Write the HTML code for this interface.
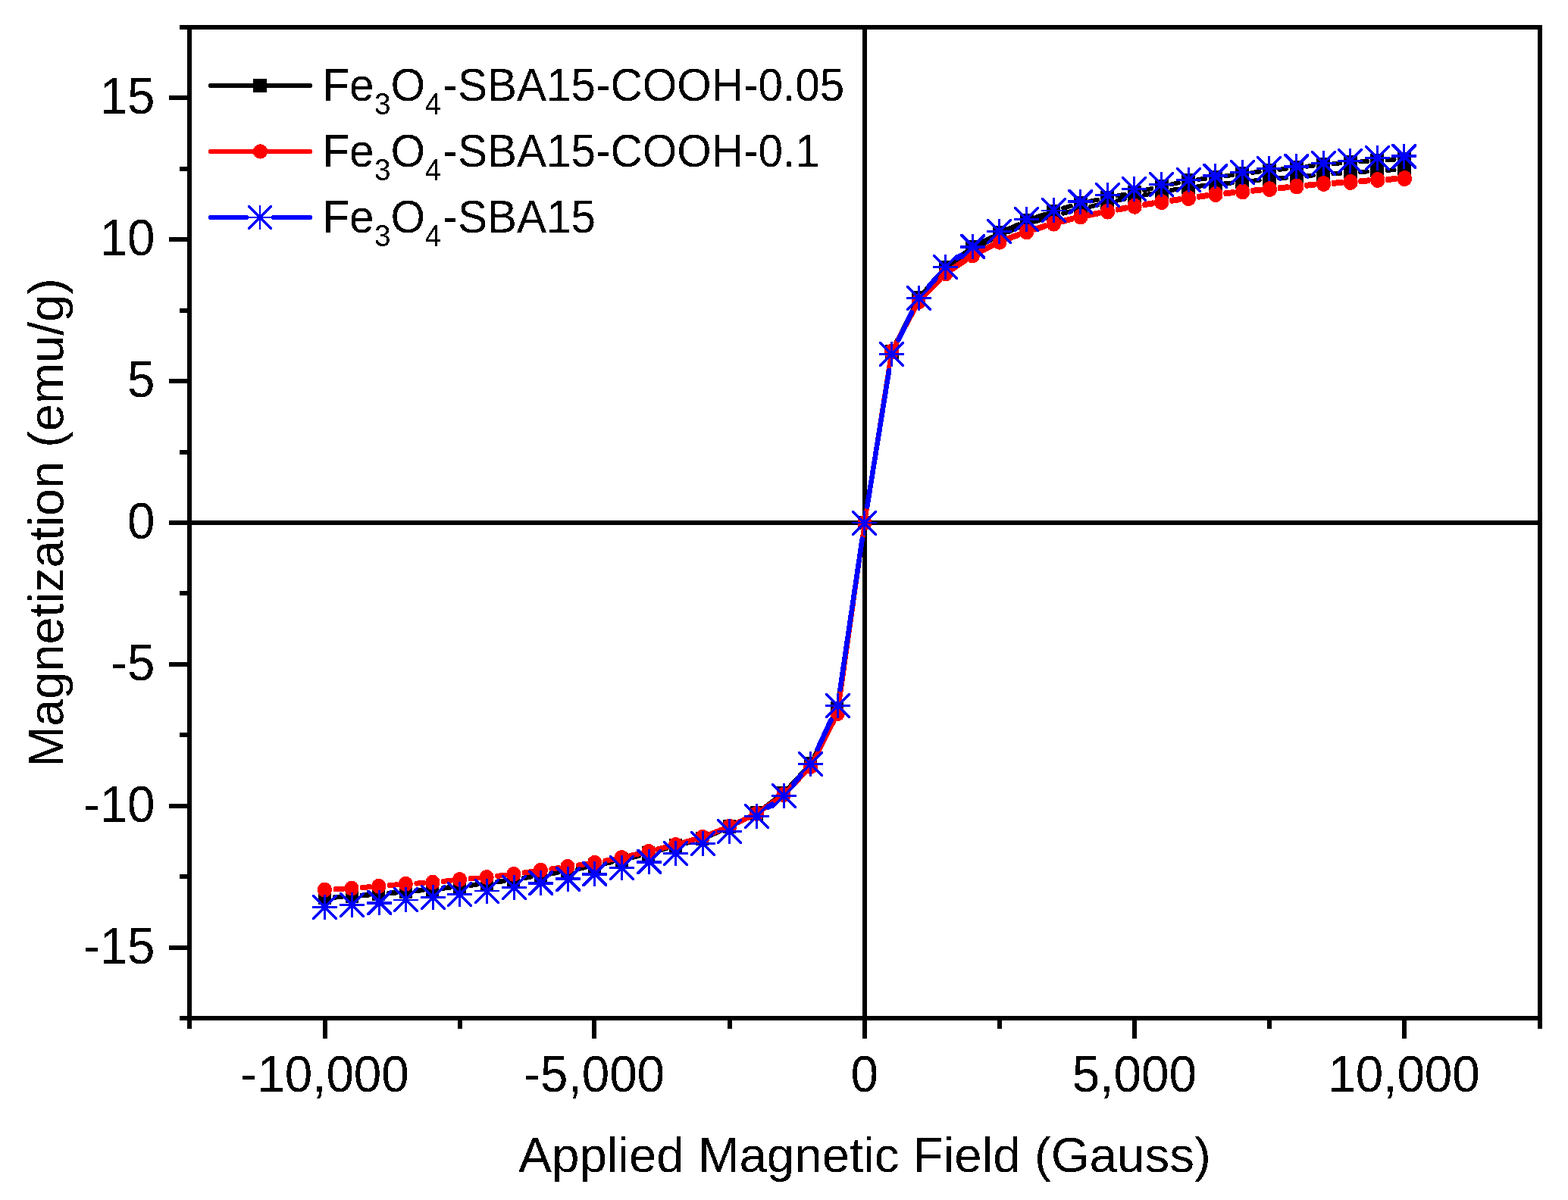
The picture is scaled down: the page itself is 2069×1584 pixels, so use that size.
<!DOCTYPE html>
<html lang="en"><head><meta charset="utf-8"><title>Magnetization vs Applied Magnetic Field</title>
<style>html,body{margin:0;padding:0;background:#fff}svg{display:block}text{font-family:"Liberation Sans",Arial,Helvetica,sans-serif;fill:#000}</style></head><body>
<svg width="2069" height="1584" viewBox="0 0 2069 1584" role="img" aria-label="Magnetization versus applied magnetic field">
<rect width="2069" height="1584" fill="#fff"/>
<g shape-rendering="crispEdges" fill="#000">
<rect x="1138" y="36" width="6" height="1308"/>
<rect x="250" y="687" width="1782" height="6"/>
</g>
<g shape-rendering="crispEdges">
<path d="M442.2 1184.6L451.2 1184.0M477.8 1182.2L486.8 1181.5M513.3 1179.2L522.5 1178.5M548.9 1176.1L558.1 1175.2M584.5 1172.7L593.7 1171.8M620.1 1168.9L629.3 1167.8M655.7 1164.4L664.9 1163.2M691.2 1159.3L700.6 1157.7M726.8 1153.5L736.2 1151.9M762.3 1147.2L771.9 1145.3M797.9 1140.1L807.5 1138.2M833.4 1132.4L843.2 1129.9M868.9 1123.0L878.9 1120.2M904.6 1113.2L914.4 1110.8M938.2 1102.6L952.0 1096.4M973.6 1086.2L987.8 1079.1M1008.2 1066.7L1024.4 1054.6M1042.2 1038.7L1061.6 1017.8M1074.9 998.2L1100.1 946.3M1107.0 923.6L1139.2 701.9M1142.8 678.1L1174.6 476.7M1182.0 454.1L1206.6 405.7M1220.1 386.1L1239.7 364.1M1257.4 348.1L1273.6 336.1M1294.0 323.6L1308.2 316.4M1330.0 306.4L1343.4 300.7M1366.0 292.5L1378.6 288.6M1403.0 281.7L1412.8 279.2M1438.6 272.8L1448.4 270.5M1474.3 264.7L1483.9 262.6M1510.0 257.4L1519.4 255.7M1545.6 251.0L1555.0 249.5M1581.3 245.9L1590.5 244.8M1616.9 242.2L1626.1 241.4M1652.5 238.8L1661.7 237.9M1688.1 235.3L1697.3 234.6M1723.7 232.2L1732.9 231.4M1759.4 229.4L1768.4 228.8M1795.0 227.0L1804.0 226.4M1830.6 224.7L1839.6 224.3" stroke="#000" stroke-width="6" stroke-linecap="round" fill="none"/>
<path d="M442.2 1184.0L451.2 1183.4M477.8 1181.6L486.8 1180.9M513.3 1178.6L522.5 1177.9M548.9 1175.5L558.1 1174.6M584.5 1172.1L593.7 1171.2M620.1 1168.3L629.3 1167.2M655.7 1163.8L664.9 1162.6M691.2 1158.7L700.6 1157.1M726.8 1152.9L736.2 1151.3M762.3 1146.6L771.9 1144.7M797.9 1139.5L807.5 1137.6M833.4 1131.8L843.2 1129.3M868.9 1122.4L878.9 1119.6M904.6 1112.5L914.4 1109.9M938.3 1101.7L951.9 1095.7M973.6 1085.6L987.8 1078.5M1008.2 1066.1L1024.4 1054.0M1042.2 1038.1L1061.6 1017.2M1074.9 997.6L1100.1 945.7M1107.0 923.0L1139.2 701.9M1142.8 678.1L1174.6 476.0M1181.9 453.4L1206.7 404.2M1220.0 384.5L1239.8 362.2M1257.3 345.9L1273.7 333.5M1293.9 320.6L1308.3 313.1M1329.8 302.5L1343.6 296.3M1365.8 287.2L1378.8 282.6M1402.9 274.8L1412.9 271.9M1438.7 265.6L1448.3 263.6M1474.3 258.4L1483.9 256.5M1509.9 251.1L1519.5 248.9M1545.5 243.3L1555.1 241.2M1581.3 236.8L1590.5 235.8M1616.9 232.4L1626.1 231.0M1652.5 227.8L1661.7 226.7M1688.1 223.8L1697.3 222.7M1723.7 219.8L1732.9 218.7M1759.4 216.2L1768.4 215.4M1795.0 213.5L1804.0 212.9M1830.6 211.3L1839.6 210.7" stroke="#000" stroke-width="6" stroke-linecap="round" fill="none"/>
<path d="M420 1176h17v18h-17zM456 1174h17v18h-17zM491 1171h17v18h-17zM527 1168h17v18h-17zM562 1165h17v18h-17zM598 1162h17v18h-17zM634 1157h17v18h-17zM669 1152h17v18h-17zM705 1147h17v18h-17zM740 1141h17v18h-17zM776 1134h17v18h-17zM812 1127h17v18h-17zM847 1118h17v18h-17zM883 1108h17v18h-17zM918 1098h17v18h-17zM954 1082h17v18h-17zM990 1065h17v18h-17zM1025 1038h17v18h-17zM1061 1000h17v18h-17zM1096 926h17v18h-17zM1132 681h17v18h-17zM1168 456h18v18h-18zM1203 386h18v18h-18zM1239 346h18v18h-18zM1274 320h18v18h-18zM1310 302h18v18h-18zM1346 287h18v18h-18zM1381 276h18v18h-18zM1417 267h18v18h-18zM1452 258h18v18h-18zM1488 251h18v18h-18zM1524 244h18v18h-18zM1559 238h18v18h-18zM1595 234h18v18h-18zM1630 231h18v18h-18zM1666 228h18v18h-18zM1702 224h18v18h-18zM1737 221h18v18h-18zM1773 219h18v18h-18zM1808 216h18v18h-18zM1844 215h18v18h-18z" fill="#000"/>
<path d="M420 1176h17v18h-17zM456 1174h17v18h-17zM491 1171h17v18h-17zM527 1168h17v18h-17zM562 1164h17v18h-17zM598 1161h17v18h-17zM634 1157h17v18h-17zM669 1152h17v18h-17zM705 1146h17v18h-17zM740 1140h17v18h-17zM776 1133h17v18h-17zM812 1126h17v18h-17zM847 1117h17v18h-17zM883 1107h17v18h-17zM918 1098h17v18h-17zM954 1082h17v18h-17zM990 1064h17v18h-17zM1025 1038h17v18h-17zM1061 999h17v18h-17zM1096 926h17v18h-17zM1132 681h17v18h-17zM1168 455h18v18h-18zM1203 384h18v18h-18zM1239 344h18v18h-18zM1274 317h18v18h-18zM1310 298h18v18h-18zM1346 282h18v18h-18zM1381 270h18v18h-18zM1417 259h18v18h-18zM1452 252h18v18h-18zM1488 245h18v18h-18zM1524 237h18v18h-18zM1559 229h18v18h-18zM1595 225h18v18h-18zM1630 220h18v18h-18zM1666 216h18v18h-18zM1702 212h18v18h-18zM1737 208h18v18h-18zM1773 205h18v18h-18zM1808 203h18v18h-18zM1844 201h18v18h-18z" fill="#000"/>
<path d="M442.6 1173.3L452.8 1172.8M478.2 1171.0L488.4 1170.2M513.8 1168.2L524.0 1167.3M549.4 1165.6L559.6 1165.0M584.9 1162.8L595.3 1161.7M620.6 1159.3L630.8 1158.5M656.1 1155.9L666.5 1154.7M691.7 1151.5L702.1 1150.0M727.3 1146.5L737.7 1145.1M762.9 1141.6L773.3 1140.1M798.3 1135.8L809.0 1133.7M831.6 1129.0L845.0 1125.9M867.2 1120.6L880.6 1117.3M902.7 1111.4L916.3 1107.5M937.9 1100.2L952.3 1094.5M973.2 1085.4L988.2 1078.4M1007.8 1066.9L1024.8 1055.1M1042.0 1040.3L1061.8 1019.7M1074.9 1001.3L1100.1 951.7M1106.9 930.2L1139.3 700.8M1142.7 678.2L1174.7 474.6M1181.9 453.3L1206.7 407.0M1220.0 388.8L1239.8 368.2M1257.2 353.6L1273.8 342.4M1293.5 330.9L1308.7 323.3M1329.6 314.2L1343.8 308.9M1365.4 301.6L1379.2 297.4M1401.1 291.3L1414.7 287.8M1436.9 282.9L1450.1 280.3M1474.7 275.6L1485.4 273.5M1510.4 269.1L1520.9 267.4M1546.1 263.7L1556.5 262.2M1581.7 258.7L1592.1 257.2M1617.3 254.2L1627.7 253.1M1652.9 250.7L1663.3 249.7M1688.5 247.2L1698.9 246.2M1724.1 243.7L1734.5 242.6M1759.8 240.7L1770.0 240.1M1795.4 238.3L1805.6 237.4M1831.0 235.8L1841.2 235.2" stroke="#f00" stroke-width="6" stroke-linecap="round" fill="none"/>
<path d="M442.6 1174.3L452.8 1173.8M478.2 1172.0L488.4 1171.2M513.8 1169.2L524.0 1168.3M549.4 1166.6L559.6 1166.0M584.9 1163.8L595.3 1162.7M620.6 1160.3L630.8 1159.5M656.1 1156.9L666.5 1155.7M691.7 1152.5L702.1 1151.0M727.3 1147.5L737.7 1146.1M762.9 1142.6L773.3 1141.1M798.3 1136.8L809.0 1134.7M831.6 1130.0L845.0 1126.9M867.2 1121.6L880.6 1118.3M902.7 1112.4L916.3 1108.5M937.9 1101.2L952.3 1095.5M973.2 1086.4L988.2 1079.4M1007.8 1067.9L1024.8 1056.1M1042.0 1041.3L1061.8 1020.7M1074.9 1002.3L1100.1 952.7M1106.9 931.2L1139.3 701.8M1142.7 679.2L1174.7 476.6M1181.9 455.3L1206.7 409.0M1220.0 390.8L1239.8 370.2M1257.2 355.6L1273.8 344.4M1293.5 332.9L1308.7 325.3M1329.6 316.2L1343.8 310.9M1365.4 303.6L1379.2 299.4M1401.1 293.3L1414.7 289.8M1436.9 284.9L1450.1 282.3M1474.7 277.6L1485.4 275.5M1510.4 271.1L1520.9 269.4M1546.1 265.7L1556.5 264.2M1581.7 260.7L1592.1 259.2M1617.3 256.2L1627.7 255.1M1652.9 252.7L1663.3 251.7M1688.5 249.2L1698.9 248.2M1724.1 245.7L1734.5 244.6M1759.8 242.7L1770.0 242.1M1795.4 240.3L1805.6 239.4M1831.0 237.8L1841.2 237.2" stroke="#f00" stroke-width="6" stroke-linecap="round" fill="none"/>
<circle cx="428.4" cy="1174.1" r="9.5" fill="#f00"/>
<circle cx="464.0" cy="1172.1" r="9.5" fill="#f00"/>
<circle cx="499.7" cy="1169.3" r="9.5" fill="#f00"/>
<circle cx="535.3" cy="1166.4" r="9.5" fill="#f00"/>
<circle cx="570.9" cy="1164.3" r="9.5" fill="#f00"/>
<circle cx="606.5" cy="1160.5" r="9.5" fill="#f00"/>
<circle cx="642.2" cy="1157.5" r="9.5" fill="#f00"/>
<circle cx="677.8" cy="1153.4" r="9.5" fill="#f00"/>
<circle cx="713.4" cy="1148.3" r="9.5" fill="#f00"/>
<circle cx="749.0" cy="1143.5" r="9.5" fill="#f00"/>
<circle cx="784.7" cy="1138.4" r="9.5" fill="#f00"/>
<circle cx="820.3" cy="1131.5" r="9.5" fill="#f00"/>
<circle cx="855.9" cy="1123.4" r="9.5" fill="#f00"/>
<circle cx="891.5" cy="1114.5" r="9.5" fill="#f00"/>
<circle cx="927.2" cy="1104.4" r="9.5" fill="#f00"/>
<circle cx="962.8" cy="1090.3" r="9.5" fill="#f00"/>
<circle cx="998.4" cy="1073.5" r="9.5" fill="#f00"/>
<circle cx="1034.0" cy="1048.5" r="9.5" fill="#f00"/>
<circle cx="1069.7" cy="1011.5" r="9.5" fill="#f00"/>
<circle cx="1105.3" cy="941.5" r="9.5" fill="#f00"/>
<circle cx="1140.9" cy="689.5" r="9.5" fill="#f00"/>
<circle cx="1176.5" cy="463.3" r="9.5" fill="#f00"/>
<circle cx="1212.1" cy="397.0" r="9.5" fill="#f00"/>
<circle cx="1247.8" cy="360.0" r="9.5" fill="#f00"/>
<circle cx="1283.4" cy="336.0" r="9.5" fill="#f00"/>
<circle cx="1319.0" cy="318.2" r="9.5" fill="#f00"/>
<circle cx="1354.6" cy="304.9" r="9.5" fill="#f00"/>
<circle cx="1390.3" cy="294.1" r="9.5" fill="#f00"/>
<circle cx="1425.9" cy="285.0" r="9.5" fill="#f00"/>
<circle cx="1461.5" cy="278.2" r="9.5" fill="#f00"/>
<circle cx="1497.1" cy="271.3" r="9.5" fill="#f00"/>
<circle cx="1532.8" cy="265.6" r="9.5" fill="#f00"/>
<circle cx="1568.4" cy="260.6" r="9.5" fill="#f00"/>
<circle cx="1604.0" cy="255.5" r="9.5" fill="#f00"/>
<circle cx="1639.6" cy="252.0" r="9.5" fill="#f00"/>
<circle cx="1675.3" cy="248.6" r="9.5" fill="#f00"/>
<circle cx="1710.9" cy="245.0" r="9.5" fill="#f00"/>
<circle cx="1746.5" cy="241.5" r="9.5" fill="#f00"/>
<circle cx="1782.1" cy="239.4" r="9.5" fill="#f00"/>
<circle cx="1817.8" cy="236.5" r="9.5" fill="#f00"/>
<circle cx="1853.4" cy="234.6" r="9.5" fill="#f00"/>
<circle cx="428.4" cy="1175.1" r="9.5" fill="#f00"/>
<circle cx="464.0" cy="1173.1" r="9.5" fill="#f00"/>
<circle cx="499.7" cy="1170.3" r="9.5" fill="#f00"/>
<circle cx="535.3" cy="1167.4" r="9.5" fill="#f00"/>
<circle cx="570.9" cy="1165.3" r="9.5" fill="#f00"/>
<circle cx="606.5" cy="1161.5" r="9.5" fill="#f00"/>
<circle cx="642.2" cy="1158.5" r="9.5" fill="#f00"/>
<circle cx="677.8" cy="1154.4" r="9.5" fill="#f00"/>
<circle cx="713.4" cy="1149.3" r="9.5" fill="#f00"/>
<circle cx="749.0" cy="1144.5" r="9.5" fill="#f00"/>
<circle cx="784.7" cy="1139.4" r="9.5" fill="#f00"/>
<circle cx="820.3" cy="1132.5" r="9.5" fill="#f00"/>
<circle cx="855.9" cy="1124.4" r="9.5" fill="#f00"/>
<circle cx="891.5" cy="1115.5" r="9.5" fill="#f00"/>
<circle cx="927.2" cy="1105.4" r="9.5" fill="#f00"/>
<circle cx="962.8" cy="1091.3" r="9.5" fill="#f00"/>
<circle cx="998.4" cy="1074.5" r="9.5" fill="#f00"/>
<circle cx="1034.0" cy="1049.5" r="9.5" fill="#f00"/>
<circle cx="1069.7" cy="1012.5" r="9.5" fill="#f00"/>
<circle cx="1105.3" cy="942.5" r="9.5" fill="#f00"/>
<circle cx="1140.9" cy="690.5" r="9.5" fill="#f00"/>
<circle cx="1176.5" cy="465.3" r="9.5" fill="#f00"/>
<circle cx="1212.1" cy="399.0" r="9.5" fill="#f00"/>
<circle cx="1247.8" cy="362.0" r="9.5" fill="#f00"/>
<circle cx="1283.4" cy="338.0" r="9.5" fill="#f00"/>
<circle cx="1319.0" cy="320.2" r="9.5" fill="#f00"/>
<circle cx="1354.6" cy="306.9" r="9.5" fill="#f00"/>
<circle cx="1390.3" cy="296.1" r="9.5" fill="#f00"/>
<circle cx="1425.9" cy="287.0" r="9.5" fill="#f00"/>
<circle cx="1461.5" cy="280.2" r="9.5" fill="#f00"/>
<circle cx="1497.1" cy="273.3" r="9.5" fill="#f00"/>
<circle cx="1532.8" cy="267.6" r="9.5" fill="#f00"/>
<circle cx="1568.4" cy="262.6" r="9.5" fill="#f00"/>
<circle cx="1604.0" cy="257.5" r="9.5" fill="#f00"/>
<circle cx="1639.6" cy="254.0" r="9.5" fill="#f00"/>
<circle cx="1675.3" cy="250.6" r="9.5" fill="#f00"/>
<circle cx="1710.9" cy="247.0" r="9.5" fill="#f00"/>
<circle cx="1746.5" cy="243.5" r="9.5" fill="#f00"/>
<circle cx="1782.1" cy="241.4" r="9.5" fill="#f00"/>
<circle cx="1817.8" cy="238.5" r="9.5" fill="#f00"/>
<circle cx="1853.4" cy="236.6" r="9.5" fill="#f00"/>
<path d="M1013.8 1065.7L1018.8 1061.8M1047.1 1034.7L1056.7 1023.5M1078.6 989.1L1096.4 950.6M1108.5 910.0L1137.7 711.5M1144.3 668.6L1173.1 488.9M1185.6 448.5L1203.0 412.5M1225.3 378.4L1234.5 367.8M1262.9 340.8L1268.1 336.9" stroke="#00f" stroke-width="6.6" stroke-linecap="round" fill="none"/>
<path d="M412.0 1196.0h33.0v3h-33.0zM448.0 1193.0h33.0v3h-33.0zM484.0 1190.0h33.0v4h-33.0zM519.0 1187.0h33.0v2h-33.0zM555.0 1183.0h33.0v3h-33.0zM590.0 1179.0h33.0v3h-33.0zM626.0 1175.0h33.0v2h-33.0zM662.0 1170.0h33.0v3h-33.0zM697.0 1164.0h33.0v4h-33.0zM733.0 1158.0h33.0v4h-33.0zM768.0 1152.0h33.0v4h-33.0zM804.0 1144.0h33.0v3h-33.0zM840.0 1136.0h33.0v4h-33.0zM875.0 1125.0h33.0v3h-33.0zM911.0 1112.0h33.0v3h-33.0zM946.0 1096.0h33.0v3h-33.0zM982.0 1076.0h33.0v3h-33.0zM1018.0 1049.0h33.0v3h-33.0zM1053.0 1007.0h33.0v3h-33.0zM1089.0 930.0h33.0v3h-33.0zM1124.0 689.0h33.0v2h-33.0zM1160.0 466.0h33.0v3h-33.0zM1196.0 392.0h33.0v3h-33.0zM1231.0 351.0h33.0v3h-33.0zM1267.0 324.0h33.0v4h-33.0zM1302.0 304.0h33.0v3h-33.0zM1338.0 288.0h33.0v3h-33.0zM1374.0 277.0h33.0v2h-33.0zM1409.0 264.0h33.0v4h-33.0zM1445.0 256.0h33.0v3h-33.0zM1480.0 248.0h33.0v3h-33.0zM1516.0 242.0h33.0v3h-33.0zM1552.0 236.0h33.0v3h-33.0zM1587.0 230.0h33.0v4h-33.0zM1623.0 226.0h33.0v3h-33.0zM1658.0 221.0h33.0v3h-33.0zM1694.0 218.0h33.0v4h-33.0zM1730.0 214.0h33.0v3h-33.0zM1765.0 211.0h33.0v3h-33.0zM1801.0 207.0h33.0v3h-33.0zM1836.0 204.0h33.0v4h-33.0z" fill="#00f"/>
<path d="M427.0 1181.0v33.0h3v-33.0zM463.0 1178.0v33.0h3v-33.0zM499.0 1175.0v33.0h3v-33.0zM534.0 1171.0v33.0h3v-33.0zM570.0 1168.0v33.0h3v-33.0zM605.0 1164.0v33.0h3v-33.0zM641.0 1160.0v33.0h3v-33.0zM677.0 1155.0v33.0h3v-33.0zM712.0 1149.0v33.0h3v-33.0zM748.0 1144.0v33.0h3v-33.0zM783.0 1137.0v33.0h3v-33.0zM819.0 1129.0v33.0h3v-33.0zM855.0 1121.0v33.0h3v-33.0zM890.0 1110.0v33.0h3v-33.0zM926.0 1097.0v33.0h3v-33.0zM961.0 1081.0v33.0h3v-33.0zM997.0 1061.0v33.0h3v-33.0zM1033.0 1034.0v33.0h3v-33.0zM1068.0 992.0v33.0h3v-33.0zM1104.0 915.0v33.0h3v-33.0zM1139.0 674.0v33.0h3v-33.0zM1175.0 451.0v33.0h3v-33.0zM1211.0 377.0v33.0h3v-33.0zM1246.0 336.0v33.0h3v-33.0zM1282.0 309.0v33.0h3v-33.0zM1317.0 289.0v33.0h3v-33.0zM1353.0 273.0v33.0h3v-33.0zM1389.0 261.0v33.0h3v-33.0zM1424.0 250.0v33.0h3v-33.0zM1460.0 241.0v33.0h3v-33.0zM1495.0 233.0v33.0h3v-33.0zM1531.0 227.0v33.0h3v-33.0zM1567.0 221.0v33.0h3v-33.0zM1602.0 216.0v33.0h3v-33.0zM1638.0 211.0v33.0h3v-33.0zM1673.0 206.0v33.0h3v-33.0zM1709.0 203.0v33.0h3v-33.0zM1745.0 199.0v33.0h3v-33.0zM1780.0 196.0v33.0h3v-33.0zM1816.0 192.0v33.0h3v-33.0zM1851.0 190.0v33.0h3v-33.0z" fill="#00f"/>
<path d="M412.0 1181.0L414.9 1181.0L445.0 1211.1L445.0 1214.0L442.1 1214.0L412.0 1183.9zM448.0 1178.0L450.9 1178.0L481.0 1208.1L481.0 1211.0L478.1 1211.0L448.0 1180.9zM484.0 1175.0L487.0 1175.0L517.0 1205.0L517.0 1208.0L514.0 1208.0L484.0 1178.0zM519.0 1171.0L521.8 1171.0L552.0 1201.2L552.0 1204.0L549.2 1204.0L519.0 1173.8zM555.0 1168.0L557.9 1168.0L588.0 1198.1L588.0 1201.0L585.1 1201.0L555.0 1170.9zM590.0 1164.0L592.9 1164.0L623.0 1194.1L623.0 1197.0L620.1 1197.0L590.0 1166.9zM626.0 1160.0L628.8 1160.0L659.0 1190.2L659.0 1193.0L656.2 1193.0L626.0 1162.8zM662.0 1155.0L664.9 1155.0L695.0 1185.1L695.0 1188.0L692.1 1188.0L662.0 1157.9zM697.0 1149.0L700.0 1149.0L730.0 1179.0L730.0 1182.0L727.0 1182.0L697.0 1152.0zM733.0 1144.0L736.0 1144.0L766.0 1174.0L766.0 1177.0L763.0 1177.0L733.0 1147.0zM768.0 1137.0L771.0 1137.0L801.0 1167.0L801.0 1170.0L798.0 1170.0L768.0 1140.0zM804.0 1129.0L806.9 1129.0L837.0 1159.1L837.0 1162.0L834.1 1162.0L804.0 1131.9zM840.0 1121.0L843.0 1121.0L873.0 1151.0L873.0 1154.0L870.0 1154.0L840.0 1124.0zM875.0 1110.0L877.9 1110.0L908.0 1140.1L908.0 1143.0L905.1 1143.0L875.0 1112.9zM911.0 1097.0L913.9 1097.0L944.0 1127.1L944.0 1130.0L941.1 1130.0L911.0 1099.9zM946.0 1081.0L948.9 1081.0L979.0 1111.1L979.0 1114.0L976.1 1114.0L946.0 1083.9zM982.0 1061.0L984.9 1061.0L1015.0 1091.1L1015.0 1094.0L1012.1 1094.0L982.0 1063.9zM1018.0 1034.0L1020.9 1034.0L1051.0 1064.1L1051.0 1067.0L1048.1 1067.0L1018.0 1036.9zM1053.0 992.0L1055.9 992.0L1086.0 1022.1L1086.0 1025.0L1083.1 1025.0L1053.0 994.9zM1089.0 915.0L1091.9 915.0L1122.0 945.1L1122.0 948.0L1119.1 948.0L1089.0 917.9zM1124.0 674.0L1126.8 674.0L1157.0 704.2L1157.0 707.0L1154.2 707.0L1124.0 676.8zM1160.0 451.0L1162.9 451.0L1193.0 481.1L1193.0 484.0L1190.1 484.0L1160.0 453.9zM1196.0 377.0L1198.9 377.0L1229.0 407.1L1229.0 410.0L1226.1 410.0L1196.0 379.9zM1231.0 336.0L1233.9 336.0L1264.0 366.1L1264.0 369.0L1261.1 369.0L1231.0 338.9zM1267.0 309.0L1270.0 309.0L1300.0 339.0L1300.0 342.0L1297.0 342.0L1267.0 312.0zM1302.0 289.0L1304.9 289.0L1335.0 319.1L1335.0 322.0L1332.1 322.0L1302.0 291.9zM1338.0 273.0L1340.9 273.0L1371.0 303.1L1371.0 306.0L1368.1 306.0L1338.0 275.9zM1374.0 261.0L1376.8 261.0L1407.0 291.2L1407.0 294.0L1404.2 294.0L1374.0 263.8zM1409.0 250.0L1412.0 250.0L1442.0 280.0L1442.0 283.0L1439.0 283.0L1409.0 253.0zM1445.0 241.0L1447.9 241.0L1478.0 271.1L1478.0 274.0L1475.1 274.0L1445.0 243.9zM1480.0 233.0L1482.9 233.0L1513.0 263.1L1513.0 266.0L1510.1 266.0L1480.0 235.9zM1516.0 227.0L1518.9 227.0L1549.0 257.1L1549.0 260.0L1546.1 260.0L1516.0 229.9zM1552.0 221.0L1554.9 221.0L1585.0 251.1L1585.0 254.0L1582.1 254.0L1552.0 223.9zM1587.0 216.0L1590.0 216.0L1620.0 246.0L1620.0 249.0L1617.0 249.0L1587.0 219.0zM1623.0 211.0L1625.9 211.0L1656.0 241.1L1656.0 244.0L1653.1 244.0L1623.0 213.9zM1658.0 206.0L1660.9 206.0L1691.0 236.1L1691.0 239.0L1688.1 239.0L1658.0 208.9zM1694.0 203.0L1697.0 203.0L1727.0 233.0L1727.0 236.0L1724.0 236.0L1694.0 206.0zM1730.0 199.0L1732.9 199.0L1763.0 229.1L1763.0 232.0L1760.1 232.0L1730.0 201.9zM1765.0 196.0L1767.9 196.0L1798.0 226.1L1798.0 229.0L1795.1 229.0L1765.0 198.9zM1801.0 192.0L1803.9 192.0L1834.0 222.1L1834.0 225.0L1831.1 225.0L1801.0 194.9zM1836.0 190.0L1839.0 190.0L1869.0 220.0L1869.0 223.0L1866.0 223.0L1836.0 193.0z" fill="#00f"/>
<path d="M445.0 1181.0L445.0 1183.9L414.9 1214.0L412.0 1214.0L412.0 1211.1L442.1 1181.0zM481.0 1178.0L481.0 1180.9L450.9 1211.0L448.0 1211.0L448.0 1208.1L478.1 1178.0zM517.0 1175.0L517.0 1178.0L487.0 1208.0L484.0 1208.0L484.0 1205.0L514.0 1175.0zM552.0 1171.0L552.0 1173.8L521.8 1204.0L519.0 1204.0L519.0 1201.2L549.2 1171.0zM588.0 1168.0L588.0 1170.9L557.9 1201.0L555.0 1201.0L555.0 1198.1L585.1 1168.0zM623.0 1164.0L623.0 1166.9L592.9 1197.0L590.0 1197.0L590.0 1194.1L620.1 1164.0zM659.0 1160.0L659.0 1162.8L628.8 1193.0L626.0 1193.0L626.0 1190.2L656.2 1160.0zM695.0 1155.0L695.0 1157.9L664.9 1188.0L662.0 1188.0L662.0 1185.1L692.1 1155.0zM730.0 1149.0L730.0 1152.0L700.0 1182.0L697.0 1182.0L697.0 1179.0L727.0 1149.0zM766.0 1144.0L766.0 1147.0L736.0 1177.0L733.0 1177.0L733.0 1174.0L763.0 1144.0zM801.0 1137.0L801.0 1140.0L771.0 1170.0L768.0 1170.0L768.0 1167.0L798.0 1137.0zM837.0 1129.0L837.0 1131.9L806.9 1162.0L804.0 1162.0L804.0 1159.1L834.1 1129.0zM873.0 1121.0L873.0 1124.0L843.0 1154.0L840.0 1154.0L840.0 1151.0L870.0 1121.0zM908.0 1110.0L908.0 1112.9L877.9 1143.0L875.0 1143.0L875.0 1140.1L905.1 1110.0zM944.0 1097.0L944.0 1099.9L913.9 1130.0L911.0 1130.0L911.0 1127.1L941.1 1097.0zM979.0 1081.0L979.0 1083.9L948.9 1114.0L946.0 1114.0L946.0 1111.1L976.1 1081.0zM1015.0 1061.0L1015.0 1063.9L984.9 1094.0L982.0 1094.0L982.0 1091.1L1012.1 1061.0zM1051.0 1034.0L1051.0 1036.9L1020.9 1067.0L1018.0 1067.0L1018.0 1064.1L1048.1 1034.0zM1086.0 992.0L1086.0 994.9L1055.9 1025.0L1053.0 1025.0L1053.0 1022.1L1083.1 992.0zM1122.0 915.0L1122.0 917.9L1091.9 948.0L1089.0 948.0L1089.0 945.1L1119.1 915.0zM1157.0 674.0L1157.0 676.8L1126.8 707.0L1124.0 707.0L1124.0 704.2L1154.2 674.0zM1193.0 451.0L1193.0 453.9L1162.9 484.0L1160.0 484.0L1160.0 481.1L1190.1 451.0zM1229.0 377.0L1229.0 379.9L1198.9 410.0L1196.0 410.0L1196.0 407.1L1226.1 377.0zM1264.0 336.0L1264.0 338.9L1233.9 369.0L1231.0 369.0L1231.0 366.1L1261.1 336.0zM1300.0 309.0L1300.0 312.0L1270.0 342.0L1267.0 342.0L1267.0 339.0L1297.0 309.0zM1335.0 289.0L1335.0 291.9L1304.9 322.0L1302.0 322.0L1302.0 319.1L1332.1 289.0zM1371.0 273.0L1371.0 275.9L1340.9 306.0L1338.0 306.0L1338.0 303.1L1368.1 273.0zM1407.0 261.0L1407.0 263.8L1376.8 294.0L1374.0 294.0L1374.0 291.2L1404.2 261.0zM1442.0 250.0L1442.0 253.0L1412.0 283.0L1409.0 283.0L1409.0 280.0L1439.0 250.0zM1478.0 241.0L1478.0 243.9L1447.9 274.0L1445.0 274.0L1445.0 271.1L1475.1 241.0zM1513.0 233.0L1513.0 235.9L1482.9 266.0L1480.0 266.0L1480.0 263.1L1510.1 233.0zM1549.0 227.0L1549.0 229.9L1518.9 260.0L1516.0 260.0L1516.0 257.1L1546.1 227.0zM1585.0 221.0L1585.0 223.9L1554.9 254.0L1552.0 254.0L1552.0 251.1L1582.1 221.0zM1620.0 216.0L1620.0 219.0L1590.0 249.0L1587.0 249.0L1587.0 246.0L1617.0 216.0zM1656.0 211.0L1656.0 213.9L1625.9 244.0L1623.0 244.0L1623.0 241.1L1653.1 211.0zM1691.0 206.0L1691.0 208.9L1660.9 239.0L1658.0 239.0L1658.0 236.1L1688.1 206.0zM1727.0 203.0L1727.0 206.0L1697.0 236.0L1694.0 236.0L1694.0 233.0L1724.0 203.0zM1763.0 199.0L1763.0 201.9L1732.9 232.0L1730.0 232.0L1730.0 229.1L1760.1 199.0zM1798.0 196.0L1798.0 198.9L1767.9 229.0L1765.0 229.0L1765.0 226.1L1795.1 196.0zM1834.0 192.0L1834.0 194.9L1803.9 225.0L1801.0 225.0L1801.0 222.1L1831.1 192.0zM1869.0 190.0L1869.0 193.0L1839.0 223.0L1836.0 223.0L1836.0 220.0L1866.0 190.0z" fill="#00f"/>
</g>
<g shape-rendering="crispEdges" fill="#000">
<rect x="247" y="33" width="1788" height="6"/>
<rect x="247" y="1341" width="1788" height="6"/>
<rect x="247" y="33" width="6" height="1314"/>
<rect x="2029" y="33" width="6" height="1314"/>
<rect x="237" y="1341" width="10" height="6"/>
<rect x="223" y="1248" width="24" height="6"/>
<rect x="237" y="1154" width="10" height="6"/>
<rect x="223" y="1061" width="24" height="6"/>
<rect x="237" y="967" width="10" height="6"/>
<rect x="223" y="874" width="24" height="6"/>
<rect x="237" y="780" width="10" height="6"/>
<rect x="223" y="687" width="24" height="6"/>
<rect x="237" y="594" width="10" height="6"/>
<rect x="223" y="500" width="24" height="6"/>
<rect x="237" y="407" width="10" height="6"/>
<rect x="223" y="313" width="24" height="6"/>
<rect x="237" y="220" width="10" height="6"/>
<rect x="223" y="126" width="24" height="6"/>
<rect x="237" y="33" width="10" height="6"/>
<rect x="247" y="1347" width="6" height="11"/>
<rect x="426" y="1347" width="6" height="24"/>
<rect x="604" y="1347" width="6" height="11"/>
<rect x="781" y="1347" width="6" height="24"/>
<rect x="960" y="1347" width="6" height="11"/>
<rect x="1138" y="1347" width="6" height="24"/>
<rect x="1316" y="1347" width="6" height="11"/>
<rect x="1494" y="1347" width="6" height="24"/>
<rect x="1672" y="1347" width="6" height="11"/>
<rect x="1850" y="1347" width="6" height="24"/>
<rect x="2029" y="1347" width="6" height="11"/>
</g>
<defs><filter id="bin" x="-5%" y="-20%" width="110%" height="140%" color-interpolation-filters="sRGB"><feComponentTransfer><feFuncA type="discrete" tableValues="0 1"/></feComponentTransfer></filter></defs>
<g font-size="65.6" filter="url(#bin)">
<text transform="translate(204.6 149.6) scale(1 1.04)" text-anchor="end">15</text>
<text transform="translate(204.6 336.6) scale(1 1.04)" text-anchor="end">10</text>
<text transform="translate(204.6 523.6) scale(1 1.04)" text-anchor="end">5</text>
<text transform="translate(204.6 710.6) scale(1 1.04)" text-anchor="end">0</text>
<text transform="translate(204.6 897.6) scale(1 1.04)" text-anchor="end">-5</text>
<text transform="translate(204.6 1084.6) scale(1 1.04)" text-anchor="end">-10</text>
<text transform="translate(204.6 1271.6) scale(1 1.04)" text-anchor="end">-15</text>
<text transform="translate(428.6 1440.6) scale(1 1.04)" text-anchor="middle">-10,000</text>
<text transform="translate(784.1 1440.6) scale(1 1.04)" text-anchor="middle">-5,000</text>
<text transform="translate(1140.7 1440.6) scale(1 1.04)" text-anchor="middle">0</text>
<text transform="translate(1496.9 1440.6) scale(1 1.04)" text-anchor="middle">5,000</text>
<text transform="translate(1852.5 1440.6) scale(1 1.04)" text-anchor="middle">10,000</text>
<text transform="translate(1141.0 1547.3)" text-anchor="middle" textLength="913.4" lengthAdjust="spacingAndGlyphs">Applied Magnetic Field (Gauss)</text>
<text transform="translate(83.4 690.0) rotate(-90)" text-anchor="middle" textLength="645.7" lengthAdjust="spacingAndGlyphs">Magnetization (emu/g)</text>
</g>
<g shape-rendering="crispEdges">
<path d="M278 113 H409" stroke="#000" stroke-width="6" stroke-linecap="round" fill="none"/>
<rect x="334" y="104" width="18" height="18" rx="1.6" fill="#000"/>
<path d="M278 200 H409" stroke="#f00" stroke-width="6" stroke-linecap="round" fill="none"/>
<circle cx="343.5" cy="200" r="9.7" fill="#f00"/>
<path d="M278 287 H325 M361 287 H409" stroke="#00f" stroke-width="6" stroke-linecap="round" fill="none"/>
<path d="M327.0 286h32v2h-32z" fill="#00f"/>
<path d="M342 271.0v32h2v-32z" fill="#00f"/>
<path d="M326.8 270.8L328.9 270.8L359.2 301.1L359.2 303.2L357.1 303.2L326.8 272.9z" fill="#00f"/>
<path d="M359.2 270.8L359.2 272.9L328.9 303.2L326.8 303.2L326.8 301.1L357.1 270.8z" fill="#00f"/>
</g>
<g font-size="58.5" filter="url(#bin)">
<text transform="translate(0 133.2) scale(1 1.04)"><tspan x="425.4">Fe</tspan><tspan x="494" dy="16.7" font-size="38.8">3</tspan><tspan x="515.6" dy="-16.7">O</tspan><tspan x="560.8" dy="16.7" font-size="38.8">4</tspan><tspan x="584.5" dy="-16.7">-SBA15-COOH-0.05</tspan></text>
<text transform="translate(0 220.2) scale(1 1.04)"><tspan x="425.4">Fe</tspan><tspan x="494" dy="16.7" font-size="38.8">3</tspan><tspan x="515.6" dy="-16.7">O</tspan><tspan x="560.8" dy="16.7" font-size="38.8">4</tspan><tspan x="584.5" dy="-16.7">-SBA15-COOH-0.1</tspan></text>
<text transform="translate(0 307.2) scale(1 1.04)"><tspan x="425.4">Fe</tspan><tspan x="494" dy="16.7" font-size="38.8">3</tspan><tspan x="515.6" dy="-16.7">O</tspan><tspan x="560.8" dy="16.7" font-size="38.8">4</tspan><tspan x="584.5" dy="-16.7">-SBA15</tspan></text>
</g>
</svg></body></html>
